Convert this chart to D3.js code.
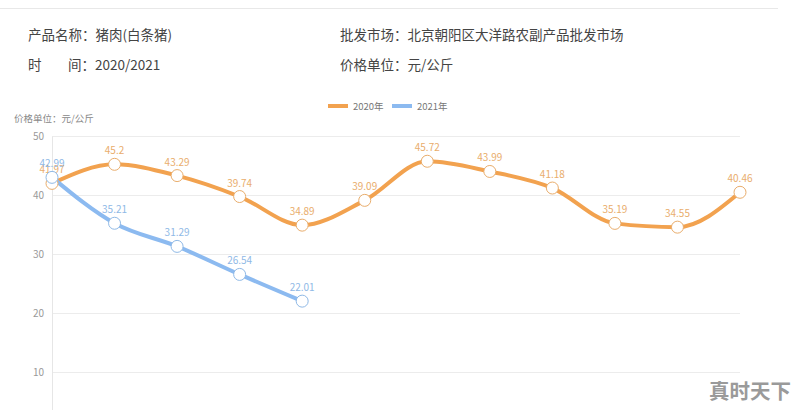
<!DOCTYPE html>
<html><head><meta charset="utf-8">
<script src="https://cdn.jsdelivr.net/npm/d3@7/dist/d3.min.js"></script>
<style>
body{margin:0;background:#fff;}
svg{display:block;font-family:"Noto Sans CJK SC","Microsoft YaHei",sans-serif;}
</style></head>
<body><svg id="c" width="800" height="410"></svg>
<script>
const months = ["1月","2月","3月","4月","5月","6月","7月","8月","9月","10月","11月","12月"];
const series2020 = [41.97,45.2,43.29,39.74,34.89,39.09,45.72,43.99,41.18,35.19,34.55,40.46];
const series2021 = [42.99,35.21,31.29,26.54,22.01];
const yTicks = [10,20,30,40,50];
const seriesNames = ["2020年","2021年"];

const svg = d3.select("#c");
const orange = "#f2a24f", blue = "#8cbaf0";
const orangeLabel = "#e9ad6c", blueLabel = "#8fb9e6";

// header
svg.append("line").attr("x1",0).attr("x2",778).attr("y1",8.5).attr("y2",8.5).attr("stroke","#e8e8e8");
const hdr = [
  [28,40,"产品名称：猪肉(白条猪)"],
  [340,40,"批发市场：北京朝阳区大洋路农副产品批发市场"],
  [340,70,"价格单位：元/公斤"]
];
hdr.forEach(h=>svg.append("text").attr("x",h[0]).attr("y",h[1]).attr("font-size",13.5).attr("fill","#444").text(h[2]));
svg.append("text").attr("x",28).attr("y",70).attr("font-size",13.5).attr("fill","#444").text("时");
svg.append("text").attr("x",68).attr("y",70).attr("font-size",13.5).attr("fill","#444").text("间：2020/2021");

const x = d3.scalePoint().domain(months).range([52,740]);
const y = d3.scaleLinear().domain([0,50]).range([431,136]);

// grid
svg.append("g").selectAll("line").data(yTicks).join("line")
  .attr("x1",52).attr("x2",740).attr("y1",d=>y(d)+0.5).attr("y2",d=>y(d)+0.5)
  .attr("stroke","#ececec");
const yAxis = svg.append("g").attr("transform","translate(52,0)")
  .call(d3.axisLeft(y).tickValues(yTicks).tickSize(0).tickPadding(8));
yAxis.select(".domain").attr("stroke","#e6e6e6");
yAxis.selectAll("text").attr("fill","#999").attr("font-size",10).attr("font-family","Noto Sans CJK SC, sans-serif");

// x axis lies below the visible area (y = 0 line); draw only its line
const xAxis = svg.append("g").attr("transform","translate(0,431)").call(d3.axisBottom(x).tickSize(0).tickFormat(""));
xAxis.select(".domain").attr("stroke","#e6e6e6");

svg.append("text").attr("x",14).attr("y",122).attr("font-size",9.5).attr("fill","#888").text("价格单位：元/公斤");

// legend
const leg = [[328,orange,seriesNames[0]],[392,blue,seriesNames[1]]];
leg.forEach(l=>{
  svg.append("line").attr("x1",l[0]).attr("x2",l[0]+20).attr("y1",106).attr("y2",106).attr("stroke",l[1]).attr("stroke-width",4);
  svg.append("text").attr("x",l[0]+25).attr("y",109.5).attr("font-size",9.5).attr("fill","#777").text(l[2]);
});

const line = d3.line().x((d,i)=>x(months[i])).y(d=>y(d)).curve(d3.curveMonotoneX);

function draw(data,color,lc){
  svg.append("path").datum(data).attr("d",line).attr("fill","none").attr("stroke",color).attr("stroke-width",4).attr("stroke-linejoin","round");
  return ()=>{
    svg.append("g").selectAll("circle").data(data).join("circle")
      .attr("cx",(d,i)=>x(months[i])).attr("cy",d=>y(d)).attr("r",6)
      .attr("fill","#fff").attr("stroke",lc).attr("stroke-width",1);
    svg.append("g").selectAll("text").data(data).join("text")
      .attr("x",(d,i)=>x(months[i])).attr("y",d=>y(d)-10).attr("text-anchor","middle")
      .attr("font-size",10).attr("fill",lc).text(d=>d);
  };
}
const m1 = draw(series2020,orange,orangeLabel);
const m2 = draw(series2021,blue,blueLabel);
m1(); m2();

// watermark
svg.append("text").attr("x",709).attr("y",399).attr("font-size",20.5).attr("font-weight","bold").attr("fill","#9a9a9a").text("真时天下");
</script></body></html>
